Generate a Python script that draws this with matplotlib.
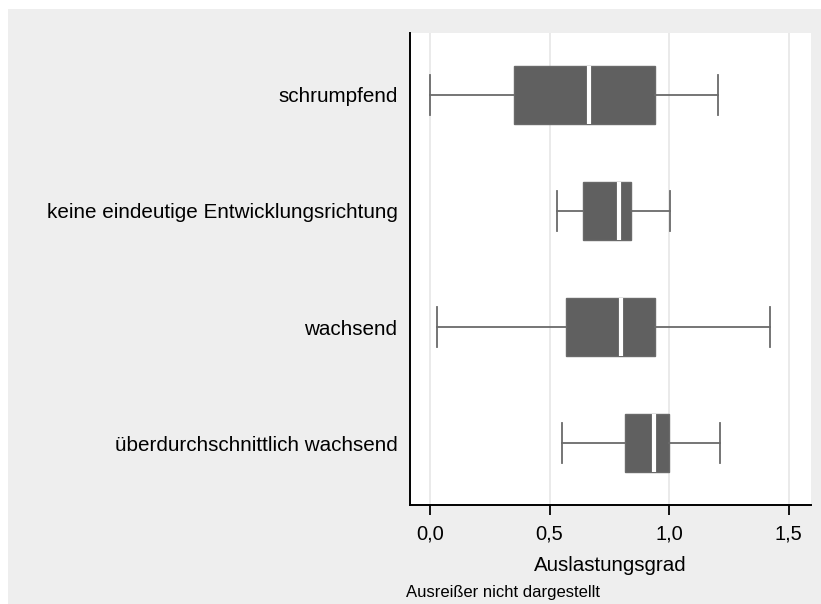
"""
Boxplot des Auslastungsgrads nach Entwicklungsrichtung (ohne Ausreißer).
"""
#-->Importar librerías
import matplotlib
matplotlib.use("Agg")
import matplotlib.pyplot as plt
from matplotlib.patches import Rectangle

#-->Datos
kategorien = [
    "schrumpfend",
    "keine eindeutige Entwicklungsrichtung",
    "wachsend",
    "überdurchschnittlich wachsend",
]
whisker_unten = [0.00, 0.533, 0.028, 0.550]
q1 = [0.353, 0.640, 0.569, 0.814]
median = [0.664, 0.792, 0.799, 0.937]
q3 = [0.943, 0.841, 0.942, 1.000]
whisker_oben = [1.203, 1.002, 1.424, 1.215]

x_ticks = [0.0, 0.5, 1.0, 1.5]
x_ticklabels = ["0,0", "0,5", "1,0", "1,5"]

plt.rcParams["font.family"] = ["Liberation Sans", "DejaVu Sans"]

W, H = 821, 604
fig = plt.figure(figsize=(W / 100, H / 100), dpi=100)
fig.patch.set_facecolor("white")

#-->Fondo gris estilo Stata
fig.patches.append(Rectangle((8 / W, 0), 1 - 8 / W, 1 - 9 / H,
                             transform=fig.transFigure, facecolor="#EEEEEE",
                             edgecolor="none", zorder=-5))

ax = fig.add_axes([410 / W, (H - 505) / H, (811 - 410) / W, (505 - 33) / H])
ax.set_facecolor("white")

stats = []
for i in range(len(kategorien)):
    stats.append({
        "whislo": whisker_unten[i],
        "q1": q1[i],
        "med": median[i],
        "q3": q3[i],
        "whishi": whisker_oben[i],
        "fliers": [],
    })

pos = list(range(1, len(kategorien) + 1))
ax.bxp(stats, positions=pos, orientation="horizontal", widths=0.5,
       patch_artist=True, showfliers=False, capwidths=0.345,
       boxprops=dict(facecolor="#606060", edgecolor="#6a6a6a", linewidth=1),
       medianprops=dict(color="white", linewidth=3),
       whiskerprops=dict(color="#6a6a6a", linewidth=1.3),
       capprops=dict(color="#6a6a6a", linewidth=1.3))

#-->Ejes
ax.set_ylim(4.53, 0.47)
ax.set_xlim(-0.084, 1.594)
ax.set_yticks(pos)
ax.set_yticklabels(kategorien, fontsize=14.9)
ax.tick_params(axis="y", length=0, pad=9)
ax.set_xticks(x_ticks)
ax.set_xticklabels(x_ticklabels, fontsize=14.5)
ax.tick_params(axis="x", length=7, width=1.3, pad=7, color="black")

ax.grid(axis="x", color="#E6E6E6", linewidth=1.2)
ax.set_axisbelow(True)

for s in ["top", "right"]:
    ax.spines[s].set_visible(False)
for s in ["left", "bottom"]:
    ax.spines[s].set_linewidth(1.4)
    ax.spines[s].set_color("black")

ax.set_xlabel("Auslastungsgrad", fontsize=14.8, labelpad=9)

#-->Nota
fig.text(406 / W, (H - 592) / H, "Ausreißer nicht dargestellt",
         fontsize=12, ha="left", va="center")

fig.savefig("out.png", dpi=100)
